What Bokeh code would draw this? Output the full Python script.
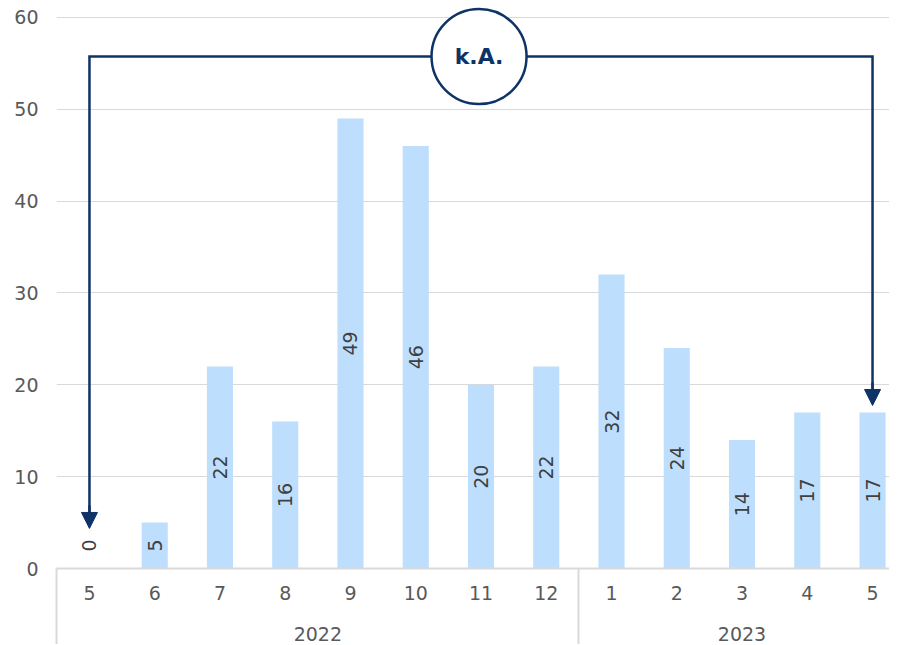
import math
from bokeh.plotting import figure
from bokeh.models import (Range1d, FixedTicker, LinearAxis, ColumnDataSource,
                          Arrow, NormalHead)
from bokeh.core.properties import value
from bokeh.embed import file_html
from bokeh.resources import INLINE

# ---- data ----
months = ["5", "6", "7", "8", "9", "10", "11", "12", "1", "2", "3", "4", "5"]
counts = [0, 5, 22, 16, 49, 46, 20, 22, 32, 24, 14, 17, 17]
years = ["2022", "2023"]
year_sizes = [8, 5]
y_ticks = [0, 10, 20, 30, 40, 50, 60]
note_text = "k.A."

NAVY = "#0E3366"
BAR = "#BDDEFC"
GRID = "#D9D9D9"
TXT = "#595959"
FONT = "DejaVu Sans"

xs = list(range(len(months)))

p = figure(width=889, height=644, output_backend="svg", toolbar_location=None,
           x_range=Range1d(-0.505, 12.26), y_range=Range1d(0, 61.74),
           min_border_left=56, min_border_right=0, min_border_top=1,
           min_border_bottom=76, x_axis_type=None)
p.outline_line_color = None
p.background_fill_color = "white"

# y axis
p.yaxis.ticker = FixedTicker(ticks=y_ticks)
p.yaxis.axis_line_color = None
p.yaxis.major_tick_line_color = None
p.yaxis.minor_tick_line_color = None
p.yaxis.major_tick_out = 0
p.yaxis.major_label_standoff = 18
p.yaxis.major_label_text_font = FONT
p.yaxis.major_label_text_font_size = "19px"
p.yaxis.major_label_text_color = TXT
p.yaxis.axis_label = " "
p.yaxis.axis_label_standoff = 0
p.yaxis.axis_label_text_font_size = "7px"
p.ygrid.ticker = FixedTicker(ticks=y_ticks)
p.ygrid.grid_line_color = GRID
p.ygrid.grid_line_width = 1

# group boundaries
bounds = [-0.5]
for s in year_sizes:
    bounds.append(bounds[-1] + s)
centers = [(bounds[i] + bounds[i + 1]) / 2 for i in range(len(years))]

SEP = 76
# month axis (minor ticks act as group separators)
ax1 = LinearAxis(ticker=FixedTicker(ticks=xs, minor_ticks=bounds),
                 major_label_overrides={i: m for i, m in enumerate(months)})
ax1.axis_line_color = GRID
ax1.axis_line_width = 2
ax1.major_tick_out = 0
ax1.major_tick_in = 0
ax1.major_tick_line_color = None
ax1.minor_tick_out = SEP
ax1.minor_tick_in = 0
ax1.minor_tick_line_color = GRID
ax1.minor_tick_line_width = 2
ax1.major_label_standoff = 17 - SEP
ax1.major_label_text_font = FONT
ax1.major_label_text_font_size = "19px"
ax1.major_label_text_color = TXT
p.add_layout(ax1, "below")

# year axis
ax2 = LinearAxis(ticker=FixedTicker(ticks=centers, minor_ticks=[]),
                 major_label_overrides={c: y for c, y in zip(centers, years)})
ax2.axis_line_color = None
ax2.major_tick_line_color = None
ax2.minor_tick_line_color = None
ax2.major_tick_out = 0
ax2.major_tick_in = 0
ax2.major_label_standoff = 24
ax2.major_label_text_font = FONT
ax2.major_label_text_font_size = "19px"
ax2.major_label_text_color = TXT
p.add_layout(ax2, "below")

# bars
src = ColumnDataSource(dict(
    x=xs, top=counts,
    ly=[c / 2 for c in counts],
    loff=[-23 if c == 0 else 0 for c in counts],
    lbl=[str(c) for c in counts],
))
p.vbar(x="x", top="top", width=0.4, source=src, fill_color=BAR, line_color=None)
p.text(x="x", y="ly", text="lbl", y_offset="loff", source=src, angle=math.pi / 2,
       text_align="center", text_baseline="middle", text_font=value(FONT),
       text_font_size="19px", text_color="#404040")

# annotation: bracket with arrows
x_l, x_r = xs[0], xs[-1]
y_top = 55.75
tip_l, tip_r = 4.36, 17.75
p.line(x=[x_l, x_l, x_r, x_r], y=[tip_l + 1.2, y_top, y_top, tip_r + 1.2],
       line_color=NAVY, line_width=2.5, line_join="miter")
for xx, tip in [(x_l, tip_l), (x_r, tip_r)]:
    p.add_layout(Arrow(x_start=xx, y_start=tip + 2.5, x_end=xx, y_end=tip,
                       line_color=NAVY, line_width=2.5,
                       end=NormalHead(size=16, fill_color=NAVY, line_color=NAVY,
                                      line_width=1)))
p.scatter(x=[5.97], y=[y_top], marker="circle", size=95, fill_color="white",
          line_color=NAVY, line_width=2.5)
p.text(x=[5.97], y=[y_top], text=[note_text], text_align="center",
       text_baseline="middle", text_font=value(FONT), text_font_style="bold",
       text_font_size="22px", text_color=NAVY)

open("out.html", "w").write(file_html(p, INLINE))
